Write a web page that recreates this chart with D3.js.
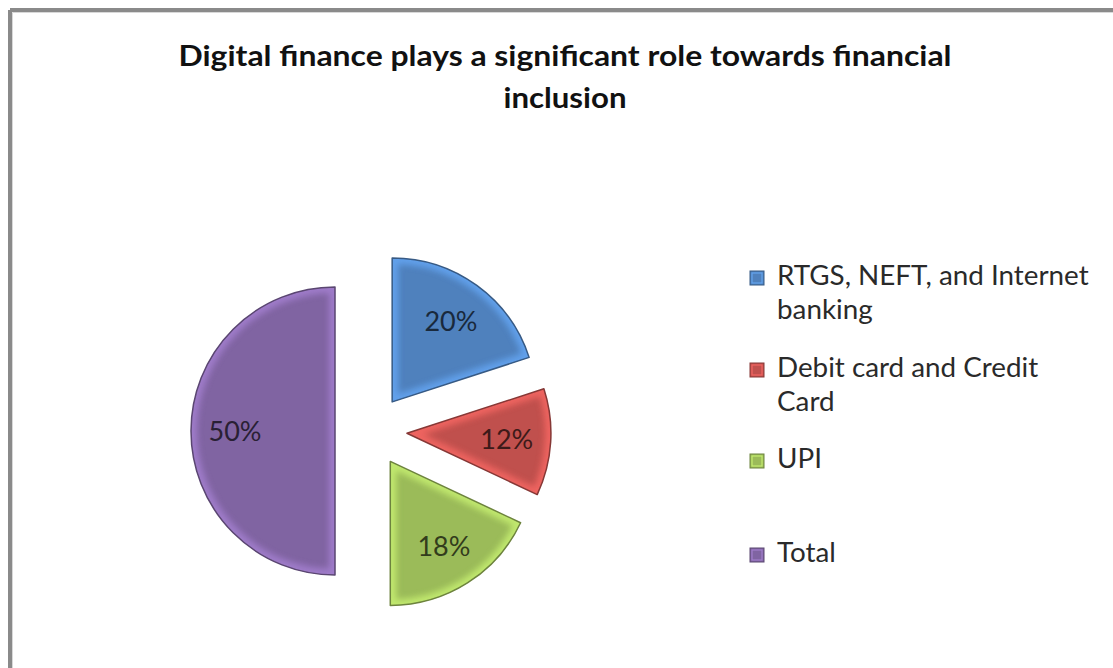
<!DOCTYPE html>
<html>
<head>
<meta charset="utf-8">
<script src="https://cdn.jsdelivr.net/npm/d3@7"></script>
<style>
  html, body { margin: 0; padding: 0; background: #fff; }
  svg { display: block; }
</style>
</head>
<body>
<svg id="chart" width="1113" height="668"></svg>
<script>
// Chart data
const titleLines = ["Digital finance plays a significant role towards financial", "inclusion"];
const categories = ["RTGS, NEFT, and Internet banking", "Debit card and Credit Card", "UPI", "Total"];
const legendLines = [["RTGS, NEFT, and Internet", "banking"], ["Debit card and Credit", "Card"], ["UPI"], ["Total"]];
const values = [20, 12, 18, 50];
const valueLabels = ["20%", "12%", "18%", "50%"];
const sliceColors = ["#4f81bd", "#c0504d", "#9bbb59", "#8064a2"];

const svg = d3.select("#chart");
const W = 1113, H = 668;

// Frame around the chart area (top and left edges visible)
svg.append("rect").attr("x", 0).attr("y", 0).attr("width", W).attr("height", H).attr("fill", "#fff");
const frame = svg.append("g");
frame.append("line").attr("x1", 10).attr("y1", 10).attr("x2", W).attr("y2", 10)
  .attr("stroke", "#8a8a8a").attr("stroke-width", 4);
frame.append("line").attr("x1", 10).attr("y1", 10).attr("x2", 10).attr("y2", H)
  .attr("stroke", "#8a8a8a").attr("stroke-width", 4);
frame.append("line").attr("x1", 12.5).attr("y1", 12.5).attr("x2", W).attr("y2", 12.5)
  .attr("stroke", "#d8d8d8").attr("stroke-width", 1);
frame.append("line").attr("x1", 12.5).attr("y1", 12.5).attr("x2", 12.5).attr("y2", H)
  .attr("stroke", "#d8d8d8").attr("stroke-width", 1);

// Title
const titleFont = "Lato, 'Open Sans', sans-serif";
const titleBaselines = [66, 108];
const titleWidths = [773, 123];
svg.append("g").selectAll("text").data(titleLines).join("text")
  .attr("x", 565).attr("y", (d, i) => titleBaselines[i])
  .attr("text-anchor", "middle")
  .attr("font-family", titleFont).attr("font-weight", 700).attr("font-size", 28.5)
  .attr("fill", "#111")
  .attr("textLength", (d, i) => titleWidths[i]).attr("lengthAdjust", "spacingAndGlyphs")
  .text(d => d);

// Pie
const cx = 371, cy = 431, radius = 144, explode = 36, labelR = 100;
const pie = d3.pie().sort(null).value(d => d);
const arcs = pie(values);
const arcGen = d3.arc().innerRadius(0).outerRadius(radius);
const labelArc = d3.arc().innerRadius(labelR).outerRadius(labelR);

const defs = svg.append("defs");
defs.append("filter").attr("id", "soft").attr("x", "-20%").attr("y", "-20%").attr("width", "140%").attr("height", "140%")
  .append("feGaussianBlur").attr("stdDeviation", 3);

const pieG = svg.append("g").attr("transform", `translate(${cx},${cy})`);
const slices = pieG.selectAll("g.slice").data(arcs).join("g")
  .attr("class", "slice")
  .attr("transform", d => {
    const mid = (d.startAngle + d.endAngle) / 2;
    return `translate(${Math.sin(mid) * explode},${-Math.cos(mid) * explode})`;
  });

slices.each(function(d, i) {
  const g = d3.select(this);
  const base = d3.color(sliceColors[i]);
  defs.append("clipPath").attr("id", "clip" + i).append("path").attr("d", arcGen(d));
  g.append("path").attr("d", arcGen(d)).attr("fill", base.formatHex());
  // bevelled rim highlight
  g.append("g").attr("clip-path", `url(#clip${i})`)
    .append("path").attr("d", arcGen(d))
    .attr("fill", "none")
    .attr("stroke", base.brighter(0.7).formatHex())
    .attr("stroke-width", 12)
    .attr("stroke-linejoin", "round")
    .attr("filter", "url(#soft)")
    .attr("opacity", 0.85);
  g.append("path").attr("d", arcGen(d))
    .attr("fill", "none")
    .attr("stroke", base.darker(1).formatHex())
    .attr("stroke-width", 1.5)
    .attr("stroke-linejoin", "round");
});

slices.append("text")
  .attr("transform", d => `translate(${labelArc.centroid(d)})`)
  .attr("text-anchor", "middle").attr("dy", "0.36em")
  .attr("font-family", titleFont).attr("font-size", 27)
  .attr("fill", (d, i) => d3.color(sliceColors[i]).darker(3.2).formatHex())
  .text((d, i) => valueLabels[i]);

// Legend
const legendTop = [285, 377, 468, 562];
const legend = svg.append("g");
legendLines.forEach((lines, i) => {
  const base = d3.color(sliceColors[i]);
  const y = legendTop[i];
  legend.append("rect")
    .attr("x", 750).attr("y", y - 14).attr("width", 14).attr("height", 14)
    .attr("fill", base.formatHex())
    .attr("stroke", base.darker(1).formatHex()).attr("stroke-width", 1);
  legend.append("rect")
    .attr("x", 752).attr("y", y - 12).attr("width", 10).attr("height", 10)
    .attr("fill", "none")
    .attr("stroke", base.brighter(0.8).formatHex()).attr("stroke-width", 1.2).attr("opacity", 0.8);
  lines.forEach((t, j) => {
    legend.append("text")
      .attr("x", 777).attr("y", y + j * 34)
      .attr("font-family", titleFont).attr("font-size", 27.8)
      .attr("fill", "#2a2a2a")
      .text(t);
  });
});
</script>
</body>
</html>
